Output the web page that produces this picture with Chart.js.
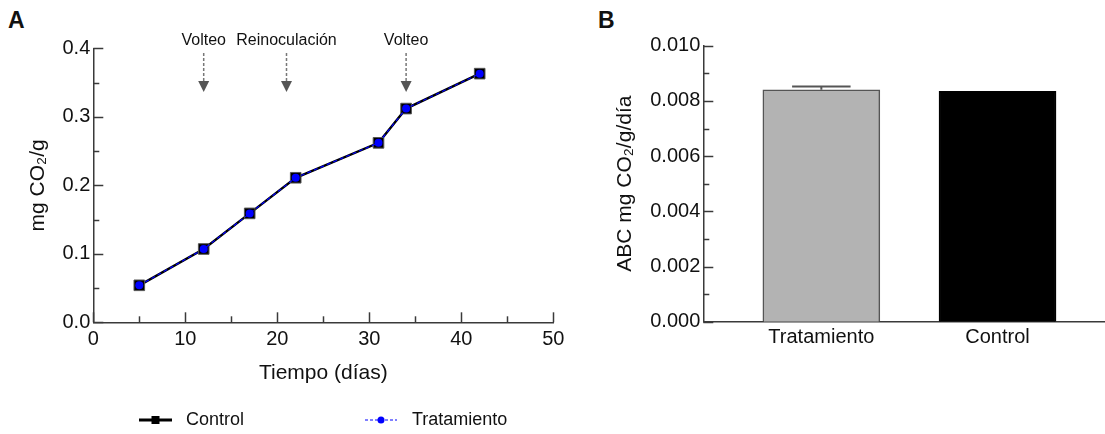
<!DOCTYPE html>
<html>
<head>
<meta charset="utf-8">
<script src="https://cdn.jsdelivr.net/npm/chart.js@4/dist/chart.umd.min.js"></script>
<style>
  html, body { margin: 0; padding: 0; background: #fff; overflow: hidden; }
  body { width: 1105px; height: 434px; position: relative; font-family: 'Liberation Sans', Arial, sans-serif; }
  #chartA { position: absolute; left: 0; top: 0; }
  #chartB { position: absolute; left: 580px; top: 0; }
  .panel { position: absolute; font-weight: bold; font-size: 23px; line-height: 23px; color: #111; }
</style>
</head>
<body>
<div class="panel" style="left:8px; top:9px;">A</div>
<div class="panel" style="left:598px; top:9px;">B</div>
<canvas id="chartA" width="575" height="434"></canvas>
<canvas id="chartB" width="525" height="434"></canvas>
<script>
// Panel A: cumulative CO2 (mg CO2/g) over time
const dias = [5, 12, 17, 22, 31, 34, 42];
const control = [0.054, 0.107, 0.159, 0.211, 0.262, 0.312, 0.363];
const tratamiento = [0.054, 0.107, 0.159, 0.211, 0.262, 0.312, 0.363];

// events marked with arrows above panel A
const eventDias = [12, 21, 34];
const eventLabels = ['Volteo', 'Reinoculación', 'Volteo'];

// Panel B: area under the curve
const grupos = ['Tratamiento', 'Control'];
const abc = [0.0084, 0.00835];
const abcError = [0.00012, 0];

const FONT = "'Liberation Sans', Arial, Helvetica, sans-serif";
Chart.defaults.font.family = FONT;
Chart.defaults.color = '#111';

const AXIS = '#3a3a3a';

// ticks drawn on the inside of the axis lines (major + minor)
const innerTicks = {
  id: 'innerTicks',
  beforeDatasetsDraw(chart, args, opts) {
    const ctx = chart.ctx;
    ctx.save();
    ctx.strokeStyle = AXIS;
    ctx.lineWidth = 1.5;
    for (const id of Object.keys(opts.scales || {})) {
      const s = chart.scales[id];
      const { minor, major } = opts.scales[id];
      const n = Math.round((s.max - s.min) / minor);
      for (let i = 0; i <= n; i++) {
        const v = s.min + i * minor;
        const r = v / major;
        const len = Math.abs(r - Math.round(r)) < 1e-6 ? 10 : 6;
        const p = Math.round(s.getPixelForValue(v)) + 0.5;
        ctx.beginPath();
        if (s.isHorizontal()) {
          ctx.moveTo(p, s.top);
          ctx.lineTo(p, s.top - len);
        } else {
          ctx.moveTo(s.right, p);
          ctx.lineTo(s.right + len, p);
        }
        ctx.stroke();
      }
    }
    ctx.restore();
  }
};

// labels + dashed arrows for the events
const eventArrows = {
  id: 'eventArrows',
  afterDraw(chart) {
    const x = chart.scales.x;
    const ctx = chart.ctx;
    ctx.save();
    eventDias.forEach((d, i) => {
      const px = x.getPixelForValue(d);
      ctx.fillStyle = '#111';
      ctx.font = '16px ' + FONT;
      ctx.textAlign = 'center';
      ctx.textBaseline = 'middle';
      ctx.fillText(eventLabels[i], px, 41);
      ctx.strokeStyle = '#777';
      ctx.lineWidth = 1.5;
      ctx.setLineDash([3, 2]);
      ctx.beginPath();
      ctx.moveTo(px, 53);
      ctx.lineTo(px, 82);
      ctx.stroke();
      ctx.setLineDash([]);
      ctx.fillStyle = '#555';
      ctx.beginPath();
      ctx.moveTo(px - 5.5, 81);
      ctx.lineTo(px + 5.5, 81);
      ctx.lineTo(px, 92);
      ctx.closePath();
      ctx.fill();
    });
    ctx.restore();
  }
};

// legend below panel A: line sample with marker
const lineLegend = {
  id: 'lineLegend',
  afterDraw(chart) {
    const ctx = chart.ctx;
    const [c, t] = chart.data.datasets;
    const y = 420;
    ctx.save();
    ctx.font = '18px ' + FONT;
    ctx.textAlign = 'left';
    ctx.textBaseline = 'middle';

    ctx.strokeStyle = c.borderColor;
    ctx.lineWidth = 3;
    ctx.beginPath();
    ctx.moveTo(139, y);
    ctx.lineTo(172, y);
    ctx.stroke();
    ctx.fillStyle = c.pointBackgroundColor;
    ctx.fillRect(151.5, y - 4, 8, 8);
    ctx.fillStyle = '#111';
    ctx.fillText(c.label, 186, y);

    ctx.strokeStyle = t.borderColor;
    ctx.lineWidth = 1;
    ctx.setLineDash([3, 2]);
    ctx.beginPath();
    ctx.moveTo(365, y);
    ctx.lineTo(397, y);
    ctx.stroke();
    ctx.setLineDash([]);
    ctx.fillStyle = t.pointBackgroundColor;
    ctx.beginPath();
    ctx.arc(381, y, 3.5, 0, Math.PI * 2);
    ctx.fill();
    ctx.fillStyle = '#111';
    ctx.fillText(t.label, 412, y);
    ctx.restore();
  }
};

// error bar on top of the bars of panel B
const errorBars = {
  id: 'errorBars',
  afterDatasetsDraw(chart) {
    const ctx = chart.ctx;
    const y = chart.scales.y;
    const meta = chart.getDatasetMeta(0);
    ctx.save();
    ctx.strokeStyle = '#555';
    ctx.lineWidth = 2;
    meta.data.forEach((bar, i) => {
      if (!abcError[i]) return;
      const top = y.getPixelForValue(abc[i] + abcError[i]);
      const half = bar.width / 4;
      ctx.beginPath();
      ctx.moveTo(bar.x, bar.y);
      ctx.lineTo(bar.x, top);
      ctx.moveTo(bar.x - half, top);
      ctx.lineTo(bar.x + half, top);
      ctx.stroke();
    });
    ctx.restore();
  }
};

const border = { display: true, color: AXIS, width: 1.5 };
const noGrid = { display: false, drawTicks: false };

new Chart(document.getElementById('chartA'), {
  type: 'line',
  data: {
    datasets: [
      {
        label: 'Control',
        data: dias.map((d, i) => ({ x: d, y: control[i] })),
        borderColor: '#000',
        borderWidth: 2.5,
        pointStyle: 'rect',
        pointRadius: 7.5,
        pointBackgroundColor: '#000',
        pointBorderColor: '#555',
        pointBorderWidth: 1,
        order: 1
      },
      {
        label: 'Tratamiento',
        data: dias.map((d, i) => ({ x: d, y: tratamiento[i] })),
        borderColor: '#0000ff',
        borderWidth: 1.2,
        borderDash: [4, 3],
        pointStyle: 'circle',
        pointRadius: 4,
        pointBackgroundColor: '#0000ff',
        pointBorderWidth: 0,
        order: 0
      }
    ]
  },
  options: {
    responsive: false,
    animation: false,
    devicePixelRatio: 1,
    layout: { padding: { left: 0, right: 21.7, top: 48.3, bottom: 0 } },
    plugins: {
      legend: { display: false },
      tooltip: { enabled: false },
      innerTicks: { scales: { x: { minor: 5, major: 10 }, y: { minor: 0.05, major: 0.1 } } }
    },
    scales: {
      x: {
        type: 'linear',
        min: 0,
        max: 50,
        ticks: { stepSize: 10, padding: 5, font: { size: 20 }, color: '#111' },
        grid: noGrid,
        border: border,
        title: { display: true, text: 'Tiempo (días)', font: { size: 21 }, color: '#111', padding: { top: 0, bottom: 48.5 } },
        afterFit: s => { s.height = 434 - 322.3; }
      },
      y: {
        min: 0,
        max: 0.4,
        ticks: { stepSize: 0.1, padding: 3, font: { size: 20 }, color: '#111', callback: v => v.toFixed(1) },
        grid: noGrid,
        border: border,
        title: { display: true, text: 'mg CO₂/g', font: { size: 21 }, color: '#111', padding: { top: 26, bottom: 0 } },
        afterFit: s => { s.width = 93.3; }
      }
    }
  },
  plugins: [innerTicks, eventArrows, lineLegend]
});

new Chart(document.getElementById('chartB'), {
  type: 'bar',
  data: {
    datasets: [{
      label: 'ABC',
      data: grupos.map((g, i) => ({ x: i + 1, y: abc[i] })),
      backgroundColor: ['#b3b3b3', '#000000'],
      borderColor: ['#555555', '#000000'],
      borderWidth: 1.5,
      barThickness: 117
    }]
  },
  options: {
    responsive: false,
    animation: false,
    devicePixelRatio: 1,
    layout: { padding: { left: 0, right: 0, top: 45.7, bottom: 0 } },
    plugins: {
      legend: { display: false },
      tooltip: { enabled: false },
      innerTicks: { scales: { y: { minor: 0.001, major: 0.002 } } }
    },
    scales: {
      x: {
        type: 'linear',
        offset: false,
        min: 0.33,
        max: 2.61,
        afterBuildTicks: s => { s.ticks = grupos.map((g, i) => ({ value: i + 1 })); },
        ticks: { padding: 4, font: { size: 20 }, color: '#111', callback: v => grupos[Math.round(v) - 1] },
        grid: noGrid,
        border: border,
        afterFit: s => { s.height = 434 - 321.7; }
      },
      y: {
        min: 0,
        max: 0.01,
        ticks: { stepSize: 0.002, padding: 3, font: { size: 20 }, color: '#111', callback: v => v.toFixed(3) },
        grid: noGrid,
        border: border,
        title: { display: true, text: 'ABC mg CO₂/g/día', font: { size: 21 }, color: '#111', padding: { top: 32.5, bottom: 0 } },
        afterFit: s => { s.width = 123.3; }
      }
    }
  },
  plugins: [innerTicks, errorBars]
});
</script>
</body>
</html>
